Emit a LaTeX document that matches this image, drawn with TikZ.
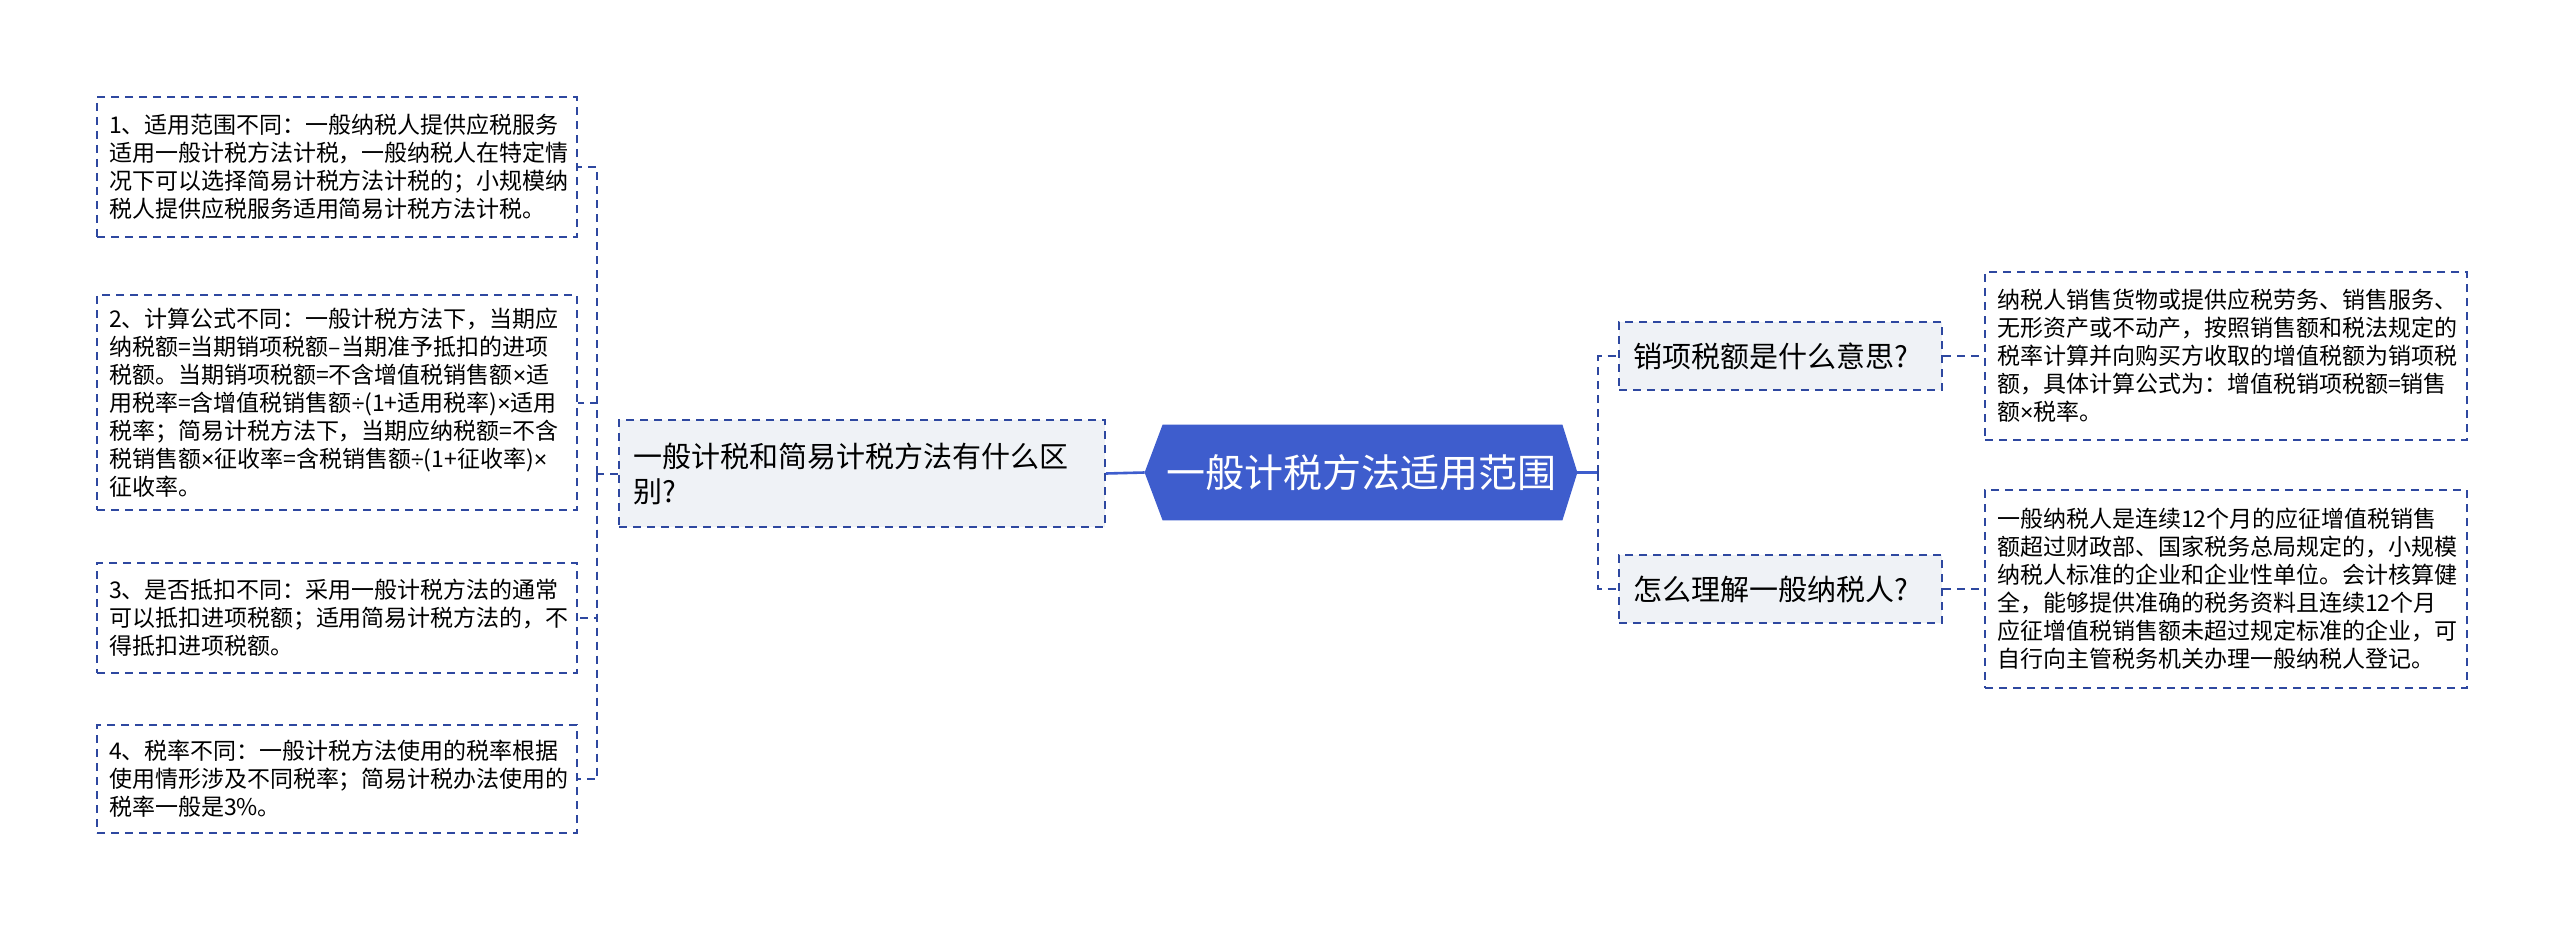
\documentclass[tikz,border=0pt]{standalone}
\usepackage{fontspec}
\newfontfamily\cjk{Noto Sans CJK SC}
\newfontfamily\latinf{Liberation Sans}
\newcommand{\tms}{{\latinf ×}}
\newcommand{\dvd}{{\latinf ÷}}
\usetikzlibrary{backgrounds}
\definecolor{linkblue}{RGB}{46,72,160}
\definecolor{rootblue}{RGB}{62,93,205}
\definecolor{boxgray}{RGB}{239,242,246}

\begin{document}
\begin{tikzpicture}[x=0.5pt, y=-0.5pt,
    dashline/.style={draw=linkblue, line width=1pt, dash pattern=on 4pt off 3pt},
    rootline/.style={draw=rootblue, line width=1.3pt},
    leafbox/.style={dashline, fill=white, align=left, inner xsep=6pt, inner ysep=0pt,
        text width=228pt, font=\cjk\fontsize{11.5}{14}\selectfont},
    topicbox/.style={dashline, fill=boxgray, align=left, inner xsep=7pt, inner ysep=0pt,
        font=\cjk\fontsize{14.5}{17.5}\selectfont},
    rootnode/.style={text=white, inner sep=0pt, minimum width=216pt, minimum height=47.5pt,
        font=\cjk\fontsize{19.5}{23}\selectfont}]
    \useasboundingbox (0,0) rectangle (2560,931);

    % centre
    \node[rootnode] (root) at (1361,472.5) {一般计税方法适用范围};
    \begin{scope}[on background layer]
        \fill[white] (0,0) rectangle (2560,931);
        \fill[rootblue] (root.west) -- ([xshift=9pt]root.north west) -- ([xshift=-7.5pt]root.north east)
            -- (root.east) -- ([xshift=-7.5pt]root.south east) -- ([xshift=9pt]root.south west) -- cycle;
    \end{scope}

    % left branch
    \node[topicbox, text width=229pt, minimum height=53.5pt] (diff) at (862,473.5)
        {一般计税和简易计税方法有什么区\\别?};
    \node[leafbox, minimum height=70pt] (scope1) at (337,167)
        {1、适用范围不同：一般纳税人提供应税服务\\适用一般计税方法计税，一般纳税人在特定情\\况下可以选择简易计税方法计税的；小规模纳\\税人提供应税服务适用简易计税方法计税。};
    \node[leafbox, minimum height=107.5pt] (formula) at (337,402.5)
        {2、计算公式不同：一般计税方法下，当期应\\纳税额=当期销项税额–当期准予抵扣的进项\\税额。当期销项税额=不含增值税销售额\tms 适\\用税率=含增值税销售额\dvd(1+适用税率)\tms 适用\\税率；简易计税方法下，当期应纳税额=不含\\税销售额\tms 征收率=含税销售额\dvd(1+征收率)\tms\\征收率。};
    \node[leafbox, minimum height=55pt] (deduct) at (337,618)
        {3、是否抵扣不同：采用一般计税方法的通常\\可以抵扣进项税额；适用简易计税方法的，不\\得抵扣进项税额。};
    \node[leafbox, minimum height=54pt] (rate) at (337,779)
        {4、税率不同：一般计税方法使用的税率根据\\使用情形涉及不同税率；简易计税办法使用的\\税率一般是3\%。};
    \coordinate (lbus) at (597,473.5);

    \draw[rootline] (root.west) -- (diff.east);
    \draw[dashline] (diff.west) -- (lbus);
    \foreach \leaf in {scope1, formula, deduct, rate}
        \draw[dashline] (lbus) |- (\leaf.east);

    % right branch
    \node[topicbox, text width=147.5pt, minimum height=34pt] (output) at (1780.5,356) {销项税额是什么意思?};
    \node[topicbox, text width=147.5pt, minimum height=34pt] (general) at (1780.5,589) {怎么理解一般纳税人?};
    \node[leafbox, text width=229pt, minimum height=84pt] (outputtxt) at (2226,356)
        {纳税人销售货物或提供应税劳务、销售服务、\\无形资产或不动产，按照销售额和税法规定的\\税率计算并向购买方收取的增值税额为销项税\\额，具体计算公式为：增值税销项税额=销售\\额\tms 税率。};
    \node[leafbox, text width=229pt, minimum height=99pt] (generaltxt) at (2226,589)
        {一般纳税人是连续12个月的应征增值税销售\\额超过财政部、国家税务总局规定的，小规模\\纳税人标准的企业和企业性单位。会计核算健\\全，能够提供准确的税务资料且连续12个月\\应征增值税销售额未超过规定标准的企业，可\\自行向主管税务机关办理一般纳税人登记。};
    \coordinate (rbus) at (1598,472.5);

    \draw[rootline] (root.east) -- (rbus);
    \draw[dashline] (rbus) |- (output.west);
    \draw[dashline] (rbus) |- (general.west);
    \draw[dashline] (output.east) -- (outputtxt.west);
    \draw[dashline] (general.east) -- (generaltxt.west);
\end{tikzpicture}
\end{document}
